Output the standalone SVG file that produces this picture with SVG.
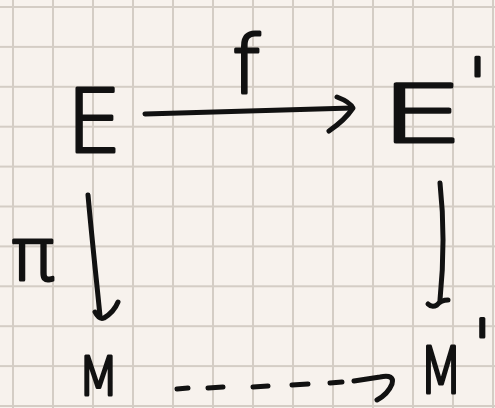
<svg xmlns="http://www.w3.org/2000/svg" width="495" height="408" viewBox="0 0 495 408">
<defs>
<pattern id="grid" x="12" y="6" width="40" height="39.9" patternUnits="userSpaceOnUse">
<path d="M1,0 V39.9 M0,1 H40" fill="none" stroke="#d4cdc5" stroke-width="2"/>
</pattern>
</defs>
<style>
.lbl{font-family:"DejaVu Sans",sans-serif;font-weight:200;fill:#111;stroke:#111;stroke-width:3;stroke-linejoin:round}
.pen{fill:none;stroke:#111;stroke-width:5;stroke-linecap:round;stroke-linejoin:round}
</style>
<rect width="495" height="408" fill="#f7f2ed"/>
<rect width="495" height="408" fill="url(#grid)"/>
<g id="node-E"><text class="lbl" x="94" y="152" font-size="88" text-anchor="middle">E</text></g>
<g id="node-E2"><text class="lbl"><tspan x="380" y="142" font-size="81" textLength="84" lengthAdjust="spacingAndGlyphs">E</tspan><tspan x="468" y="108" font-size="70">'</tspan></text></g>
<g id="node-M"><text class="lbl" x="78" y="395" font-size="54" textLength="41" lengthAdjust="spacingAndGlyphs">M</text></g>
<g id="node-M2"><text class="lbl"><tspan x="419" y="393" font-size="64" textLength="44" lengthAdjust="spacingAndGlyphs">M</tspan><tspan x="473" y="368" font-size="68">'</tspan></text></g>
<g id="connectors">
<path class="pen" d="M145,114 C220,112 290,110 352,108"/>
<path class="pen" d="M337,97 Q350,102 353,108 Q345,120 329,131"/>
<path class="pen" d="M88,195 C92,240 97,285 100,316"/>
<path class="pen" d="M95,312 Q99,320 104,318 Q114,312 118,302"/>
<path class="pen" d="M440,183 C444,220 444,260 440,300"/>
<path class="pen" d="M428,304 Q432,308 437,305 Q441,300 448,300"/>
<path class="pen" d="M177,389 L188,388 M208,388 L223,387 M253,387 L268,386 M292,385 L308,384 M330,383 L342,382"/>
<path class="pen" d="M354,381 L380,377 Q395,374 392,384 Q388,394 377,400"/>
</g>
<g id="label-f"><text class="lbl" x="246" y="93" font-size="80" text-anchor="middle">f</text></g>
<g id="label-pi"><text class="lbl" x="33" y="280" font-size="73" text-anchor="middle">π</text></g>
</svg>
